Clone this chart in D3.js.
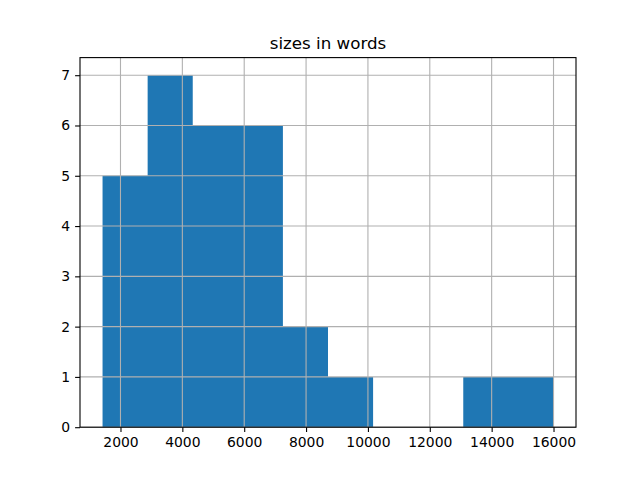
<!DOCTYPE html>
<html><head><meta charset="utf-8">
<script src="https://cdn.jsdelivr.net/npm/d3@7"></script>
<style>body{margin:0;background:#fff}svg{display:block}</style>
</head><body>
<script>
const title = "sizes in words";
const binEdges = [1420, 2878, 4336, 5793, 7251, 8709, 10167, 11624, 13082, 14540, 15998];
const counts = [5, 7, 6, 6, 2, 1, 0, 0, 1, 1];
const xTicks = [2000, 4000, 6000, 8000, 10000, 12000, 14000, 16000];
const yTicks = [0, 1, 2, 3, 4, 5, 6, 7];

const W = 640, H = 480;
const m = {left: 80, right: 576, top: 57.6, bottom: 427.2};
const svg = d3.select("body").append("svg").attr("width", W).attr("height", H);
const span = binEdges[binEdges.length-1] - binEdges[0];
const x = d3.scaleLinear().domain([binEdges[0] - 0.05*span, binEdges[binEdges.length-1] + 0.05*span]).range([m.left, m.right]);
const y = d3.scaleLinear().domain([0, d3.max(counts)*1.05]).range([m.bottom, m.top]);

const bins = counts.map((c,i)=>({x0: binEdges[i], x1: binEdges[i+1], c}));
// draw all bars as one path so adjacent bars have no seams
const p = d3.path();
bins.filter(d=>d.c>0).forEach(d=>p.rect(x(d.x0), y(d.c), x(d.x1)-x(d.x0), y(0)-y(d.c)));
svg.append("path").attr("d", p.toString()).attr("fill", "#1f77b4");

// grid
const g = svg.append("g").attr("stroke", "#b0b0b0").attr("stroke-width", 1.1);
xTicks.forEach(t=>g.append("line").attr("x1", x(t)).attr("x2", x(t)).attr("y1", m.top).attr("y2", m.bottom));
yTicks.forEach(t=>g.append("line").attr("y1", y(t)).attr("y2", y(t)).attr("x1", m.left).attr("x2", m.right));

const font = "DejaVu Sans, sans-serif";
const xa = svg.append("g").attr("transform", `translate(0,${m.bottom})`)
  .call(d3.axisBottom(x).tickValues(xTicks).tickFormat(d3.format("d")).tickSizeInner(4.9).tickSizeOuter(0).tickPadding(4.9));
const ya = svg.append("g").attr("transform", `translate(${m.left},0)`)
  .call(d3.axisLeft(y).tickValues(yTicks).tickFormat(d3.format("d")).tickSizeInner(4.9).tickSizeOuter(0).tickPadding(4.9));
[xa, ya].forEach(a=>{
  a.select(".domain").remove();
  a.selectAll("line").attr("stroke", "#000").attr("stroke-width", 1.1);
  a.selectAll("text").attr("font-family", font).attr("font-size", "13.9px").attr("fill", "#000");
});
svg.append("rect").attr("x", m.left).attr("y", m.top).attr("width", m.right-m.left).attr("height", m.bottom-m.top)
  .attr("fill", "none").attr("stroke", "#000").attr("stroke-width", 1.1);

svg.append("text").attr("x", (m.left+m.right)/2).attr("y", m.top - 8.3)
  .attr("text-anchor", "middle").attr("font-family", font).attr("font-size", "16.7px").text(title);
</script>
</body></html>
